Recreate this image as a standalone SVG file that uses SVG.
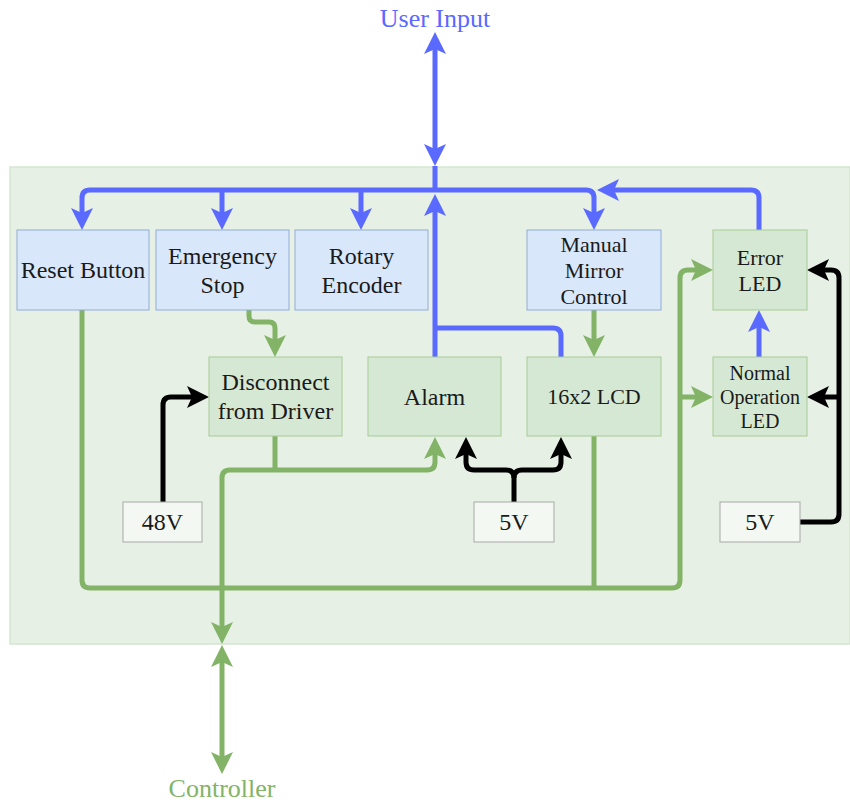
<svg xmlns="http://www.w3.org/2000/svg" width="850" height="802" viewBox="0 0 850 802">
<style>
  .t{font-family:"Liberation Serif","Times New Roman",serif;fill:#1a1a1a;text-anchor:middle}
  .blueN{fill:#d9e7fa;stroke:#92acd8;stroke-width:1}
  .greenN{fill:#d5e8d4;stroke:#a5cc95;stroke-width:1}
  .volt{fill:#f3f8f3;stroke:#a8a8a8;stroke-width:1}
  .c{fill:none;stroke-width:5;stroke-linejoin:round}
  .b{stroke:#5a69ff}
  .g{stroke:#82b366}
  .k{stroke:#000}
  .mb{marker-end:url(#ab)}
  .mbs{marker-start:url(#ab)}
  .mg{marker-end:url(#ag)}
  .mgs{marker-start:url(#ag)}
  .mk{marker-end:url(#ak)}
</style>
<defs>
  <marker id="ab" markerUnits="userSpaceOnUse" orient="auto-start-reverse" refX="0" refY="0" markerWidth="30" markerHeight="30" overflow="visible">
    <path d="M14,0 L-8,-11 L-3,0 L-8,11 Z" fill="#5a69ff"/>
  </marker>
  <marker id="ag" markerUnits="userSpaceOnUse" orient="auto-start-reverse" refX="0" refY="0" markerWidth="30" markerHeight="30" overflow="visible">
    <path d="M14,0 L-8,-11 L-3,0 L-8,11 Z" fill="#82b366"/>
  </marker>
  <marker id="ak" markerUnits="userSpaceOnUse" orient="auto-start-reverse" refX="0" refY="0" markerWidth="30" markerHeight="30" overflow="visible">
    <path d="M14,0 L-8,-11 L-3,0 L-8,11 Z" fill="#000"/>
  </marker>
</defs>

<rect id="container" x="10" y="167" width="840" height="477" fill="#e6f0e5" stroke="#d3e6cf" stroke-width="1.5"/>

<g id="connectors">
  <!-- blue -->
  <path class="c b mb mbs" d="M435,46 V152"/>
  <path class="c b" d="M435,166 V190"/>
  <path class="c b mb mbs" d="M594,216 V198 Q594,190 586,190 H90 Q82,190 82,198 V216"/>
  <path class="c b mb" d="M222,190 V216"/>
  <path class="c b mb" d="M361,190 V216"/>
  <path class="c b mb" d="M435,357 V208"/>
  <path class="c b" d="M561,357 V336 Q561,328 553,328 H435"/>
  <path class="c b mb" d="M759,230 V198 Q759,190 751,190 H611"/>
  <path class="c b mb" d="M759,357 V324"/>
  <!-- green -->
  <path class="c g mg" d="M249,310 V316 Q249,322 255,322 H269 Q275,322 275,328 V343"/>
  <path class="c g mg" d="M594,310 V343"/>
  <path class="c g mg" d="M82,310 V580 Q82,588 90,588 H672 Q680,588 680,580 V278 Q680,270 688,270 H699"/>
  <path class="c g mg" d="M680,397 H699"/>
  <path class="c g" d="M594,436 V588"/>
  <path class="c g" d="M275,436 V470"/>
  <path class="c g mg mgs" d="M435,451 V462 Q435,470 427,470 H230 Q222,470 222,478 V630"/>
  <path class="c g mg mgs" d="M222,659 V760"/>
  <!-- black -->
  <path class="c k mk" d="M163,502 V405 Q163,397 171,397 H195"/>
  <path class="c k mk" d="M514,502 V478 Q514,470 506,470 H474 Q466,470 466,462 V451"/>
  <path class="c k mk" d="M514,478 Q514,470 522,470 H553 Q561,470 561,462 V451"/>
  <path class="c k mk" d="M800,522 H831 Q839,522 839,514 V278 Q839,270 831,270 H821"/>
  <path class="c k mk" d="M839,397 H821"/>
</g>

<g id="user-input"><text class="t" x="435" y="27" font-size="26" style="fill:#5a69ff">User Input</text></g>
<g id="controller"><text class="t" x="222" y="797" font-size="26" style="fill:#82b366">Controller</text></g>

<g id="reset-button">
  <rect class="blueN" x="17" y="230" width="132" height="80"/>
  <text class="t" x="83" y="278" font-size="24">Reset Button</text>
</g>
<g id="emergency-stop">
  <rect class="blueN" x="156" y="230" width="133" height="80"/>
  <text class="t" x="222.5" y="264" font-size="24">Emergency</text>
  <text class="t" x="222.5" y="293" font-size="24">Stop</text>
</g>
<g id="rotary-encoder">
  <rect class="blueN" x="295" y="230" width="133" height="80"/>
  <text class="t" x="361.5" y="264" font-size="24">Rotary</text>
  <text class="t" x="361.5" y="293" font-size="24">Encoder</text>
</g>
<g id="manual-mirror-control">
  <rect class="blueN" x="527" y="230" width="134" height="80"/>
  <text class="t" x="594" y="252" font-size="22">Manual</text>
  <text class="t" x="594" y="278" font-size="22">Mirror</text>
  <text class="t" x="594" y="304" font-size="22">Control</text>
</g>
<g id="error-led">
  <rect class="greenN" x="713" y="230" width="94" height="80"/>
  <text class="t" x="760" y="265" font-size="22">Error</text>
  <text class="t" x="760" y="291" font-size="22">LED</text>
</g>
<g id="disconnect-from-driver">
  <rect class="greenN" x="209" y="357" width="133" height="79"/>
  <text class="t" x="275.5" y="390" font-size="24">Disconnect</text>
  <text class="t" x="275.5" y="419" font-size="24">from Driver</text>
</g>
<g id="alarm">
  <rect class="greenN" x="368" y="357" width="133" height="79"/>
  <text class="t" x="434.5" y="405" font-size="24">Alarm</text>
</g>
<g id="lcd">
  <rect class="greenN" x="527" y="357" width="134" height="79"/>
  <text class="t" x="594" y="404" font-size="22">16x2 LCD</text>
</g>
<g id="normal-operation-led">
  <rect class="greenN" x="713" y="357" width="94" height="79"/>
  <text class="t" x="760" y="380" font-size="20">Normal</text>
  <text class="t" x="760" y="404" font-size="20">Operation</text>
  <text class="t" x="760" y="428" font-size="20">LED</text>
</g>
<g id="v48">
  <rect class="volt" x="123" y="502" width="79" height="40"/>
  <text class="t" x="162.5" y="530" font-size="24">48V</text>
</g>
<g id="v5-mid">
  <rect class="volt" x="474" y="502" width="80" height="40"/>
  <text class="t" x="514" y="530" font-size="24">5V</text>
</g>
<g id="v5-right">
  <rect class="volt" x="720" y="502" width="80" height="40"/>
  <text class="t" x="760" y="530" font-size="24">5V</text>
</g>
</svg>
